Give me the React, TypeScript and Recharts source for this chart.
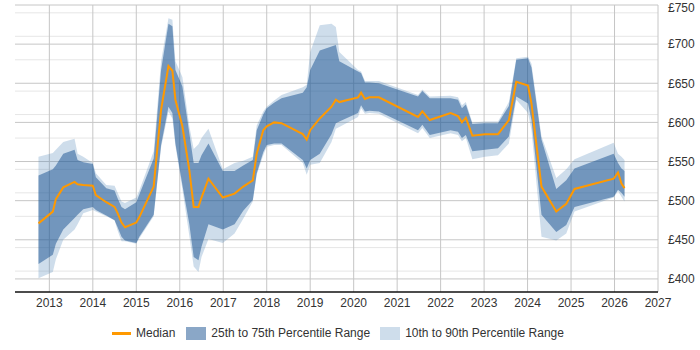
import { ComposedChart, Area, Line, XAxis, YAxis, CartesianGrid } from "recharts";

// decimal year of each sample
const years = [
  2012.75, 2013.08, 2013.15, 2013.32, 2013.58, 2013.65, 2013.78, 2014.0, 2014.07, 2014.31,
  2014.5, 2014.57, 2014.66, 2014.74, 2015.0, 2015.07, 2015.4, 2015.57, 2015.74, 2015.83,
  2015.9, 2016.06, 2016.22, 2016.32, 2016.43, 2016.5, 2016.66, 2016.99, 2017.26, 2017.46,
  2017.68, 2017.77, 2017.92, 2018.0, 2018.17, 2018.34, 2018.83, 2018.92, 2019.0, 2019.22,
  2019.49, 2019.59, 2019.67, 2020.1, 2020.17, 2020.26, 2020.36, 2020.58, 2021.48, 2021.58,
  2021.75, 2022.23, 2022.4, 2022.49, 2022.58, 2022.73, 2023.02, 2023.32, 2023.57, 2023.74,
  2024.01, 2024.09, 2024.32, 2024.66, 2024.89, 2025.08, 2025.98, 2026.08, 2026.16, 2026.23,
];

const p10 = [
  401, 409, 425, 450, 463, 470, 484, 488, 486, 480,
  475, 462, 448, 448, 445, 452, 480, 568, 614, 605,
  570, 515, 455, 416, 409, 428, 451, 446, 458, 477,
  499, 533, 558, 569, 571, 571, 548, 533, 546, 548,
  575, 592, 594, 607, 618, 611, 612, 611, 586, 593,
  580, 586, 584, 576, 580, 553, 556, 558, 573, 629,
  612, 590, 454, 449, 458, 486, 504, 512, 505, 499,
];

const p25 = [
  419, 431, 445, 463, 478, 482, 489, 492, 488, 481,
  475, 466, 454, 449, 446, 454, 482, 571, 620, 612,
  573, 520, 470, 428, 424, 441, 470, 463, 470, 487,
  501, 535, 562, 571, 573, 573, 552, 541, 552, 560,
  585, 599, 601, 612, 622, 614, 615, 614, 590, 597,
  584, 590, 588, 580, 584, 563, 565, 567, 582, 633,
  624, 603, 482, 460, 469, 492, 505, 514, 510, 505,
];

const median = [
  471, 486, 502, 517, 524, 521, 520, 519, 507, 498,
  492, 484, 472, 466, 472, 479, 518, 616, 672, 666,
  629, 595, 539, 492, 492, 504, 528, 504, 509, 518,
  526, 560, 590, 595, 600, 599, 585, 578, 590, 605,
  620, 629, 626, 632, 638, 630, 632, 632, 607, 614,
  603, 612, 608, 600, 606, 583, 585, 585, 603, 652,
  647, 624, 518, 486, 496, 515, 528, 536, 522, 516,
];

const p75 = [
  532, 540, 545, 560, 565, 552, 549, 547, 530, 516,
  513, 503, 492, 489, 498, 508, 554, 667, 726, 723,
  667, 646, 586, 548, 548, 558, 573, 538, 538, 545,
  552, 590, 610, 618, 625, 631, 638, 645, 667, 692,
  697, 699, 678, 665, 663, 651, 651, 650, 633, 640,
  631, 631, 629, 618, 623, 598, 599, 599, 621, 680,
  682, 670, 578, 515, 526, 541, 560, 548, 541, 538,
];

const p90 = [
  556, 561, 565, 575, 579, 560, 556, 548, 535, 520,
  519, 510, 499, 497, 504, 513, 563, 678, 733, 731,
  678, 658, 595, 566, 572, 580, 592, 540, 548, 551,
  556, 596, 614, 620, 628, 635, 645, 648, 690, 724,
  726, 722, 690, 667, 665, 653, 653, 653, 635, 642,
  633, 634, 632, 622, 626, 600, 601, 601, 626, 682,
  684, 675, 582, 529, 540, 553, 574, 560, 556, 552,
];

const yearTicks = [2013, 2014, 2015, 2016, 2017, 2018, 2019, 2020, 2021, 2022, 2023, 2024, 2025, 2026, 2027];
const priceTicks = [400, 450, 500, 550, 600, 650, 700, 750];
const minorTicks = [390, 410, 420, 430, 440, 460, 470, 480, 490, 510, 520, 530, 540, 560, 570, 580, 590,
  610, 620, 630, 640, 660, 670, 680, 690, 710, 720, 730, 740];

const rows = years.map((year, i) => ({
  year,
  outer: [p10[i], p90[i]],
  inner: [p25[i], p75[i]],
  median: median[i],
}));

const FONT = '"Liberation Sans", Arial, sans-serif';
const ORANGE = "#ff9900";
const INNER = "#154f90";
const OUTER = "#4f86b8";

function LegendRow() {
  const text = { fontSize: 12, color: "#333", fontFamily: FONT, lineHeight: "14px" };
  return (
    <div style={{ position: "absolute", left: 112, top: 326, display: "flex", alignItems: "center", ...text }}>
      <span style={{ width: 19, height: 3, background: ORANGE, marginRight: 5 }} />
      <span style={{ marginRight: 11 }}>Median</span>
      <span style={{ width: 20, height: 13, background: INNER, opacity: 0.5, marginRight: 5 }} />
      <span style={{ marginRight: 10 }}>25th to 75th Percentile Range</span>
      <span style={{ width: 20, height: 13, background: OUTER, opacity: 0.28, marginRight: 5 }} />
      <span>10th to 90th Percentile Range</span>
    </div>
  );
}

export default function App() {
  return (
    <div style={{ position: "absolute", left: 0, top: 0, width: 700, height: 350, background: "#fff" }}>
      <ComposedChart width={700} height={350} data={rows} margin={{ top: 5, right: 0, bottom: 0, left: 15 }}>
        <CartesianGrid vertical={false} horizontalValues={minorTicks} stroke="#e6e6e6" />
        <CartesianGrid horizontalValues={priceTicks} verticalValues={yearTicks} stroke="#c6c6c6" />
        <XAxis
          dataKey="year"
          type="number"
          domain={[2012.21, 2027]}
          ticks={yearTicks}
          allowDataOverflow
          height={58}
          tickLine={false}
          tickSize={0}
          tickMargin={6}
          axisLine={{ stroke: "#111", strokeWidth: 1.5 }}
          tick={{ fontSize: 12, fill: "#333", fontFamily: FONT }}
        />
        <YAxis
          orientation="right"
          type="number"
          domain={[383.3, 750]}
          ticks={priceTicks}
          allowDataOverflow
          width={42}
          axisLine={false}
          tickLine={false}
          tickSize={0}
          tickMargin={10}
          tickFormatter={(v: number) => `£${v}`}
          tick={{ fontSize: 12, fill: "#333", fontFamily: FONT, textAnchor: "start" }}
        />
        <Area
          dataKey="outer"
          type="linear"
          stroke="none"
          fill={OUTER}
          fillOpacity={0.28}
          isAnimationActive={false}
        />
        <Area
          dataKey="inner"
          type="linear"
          stroke="none"
          fill={INNER}
          fillOpacity={0.5}
          isAnimationActive={false}
        />
        <Line
          dataKey="median"
          type="linear"
          stroke={ORANGE}
          strokeWidth={2}
          dot={false}
          activeDot={false}
          isAnimationActive={false}
        />
      </ComposedChart>
      <LegendRow />
    </div>
  );
}
